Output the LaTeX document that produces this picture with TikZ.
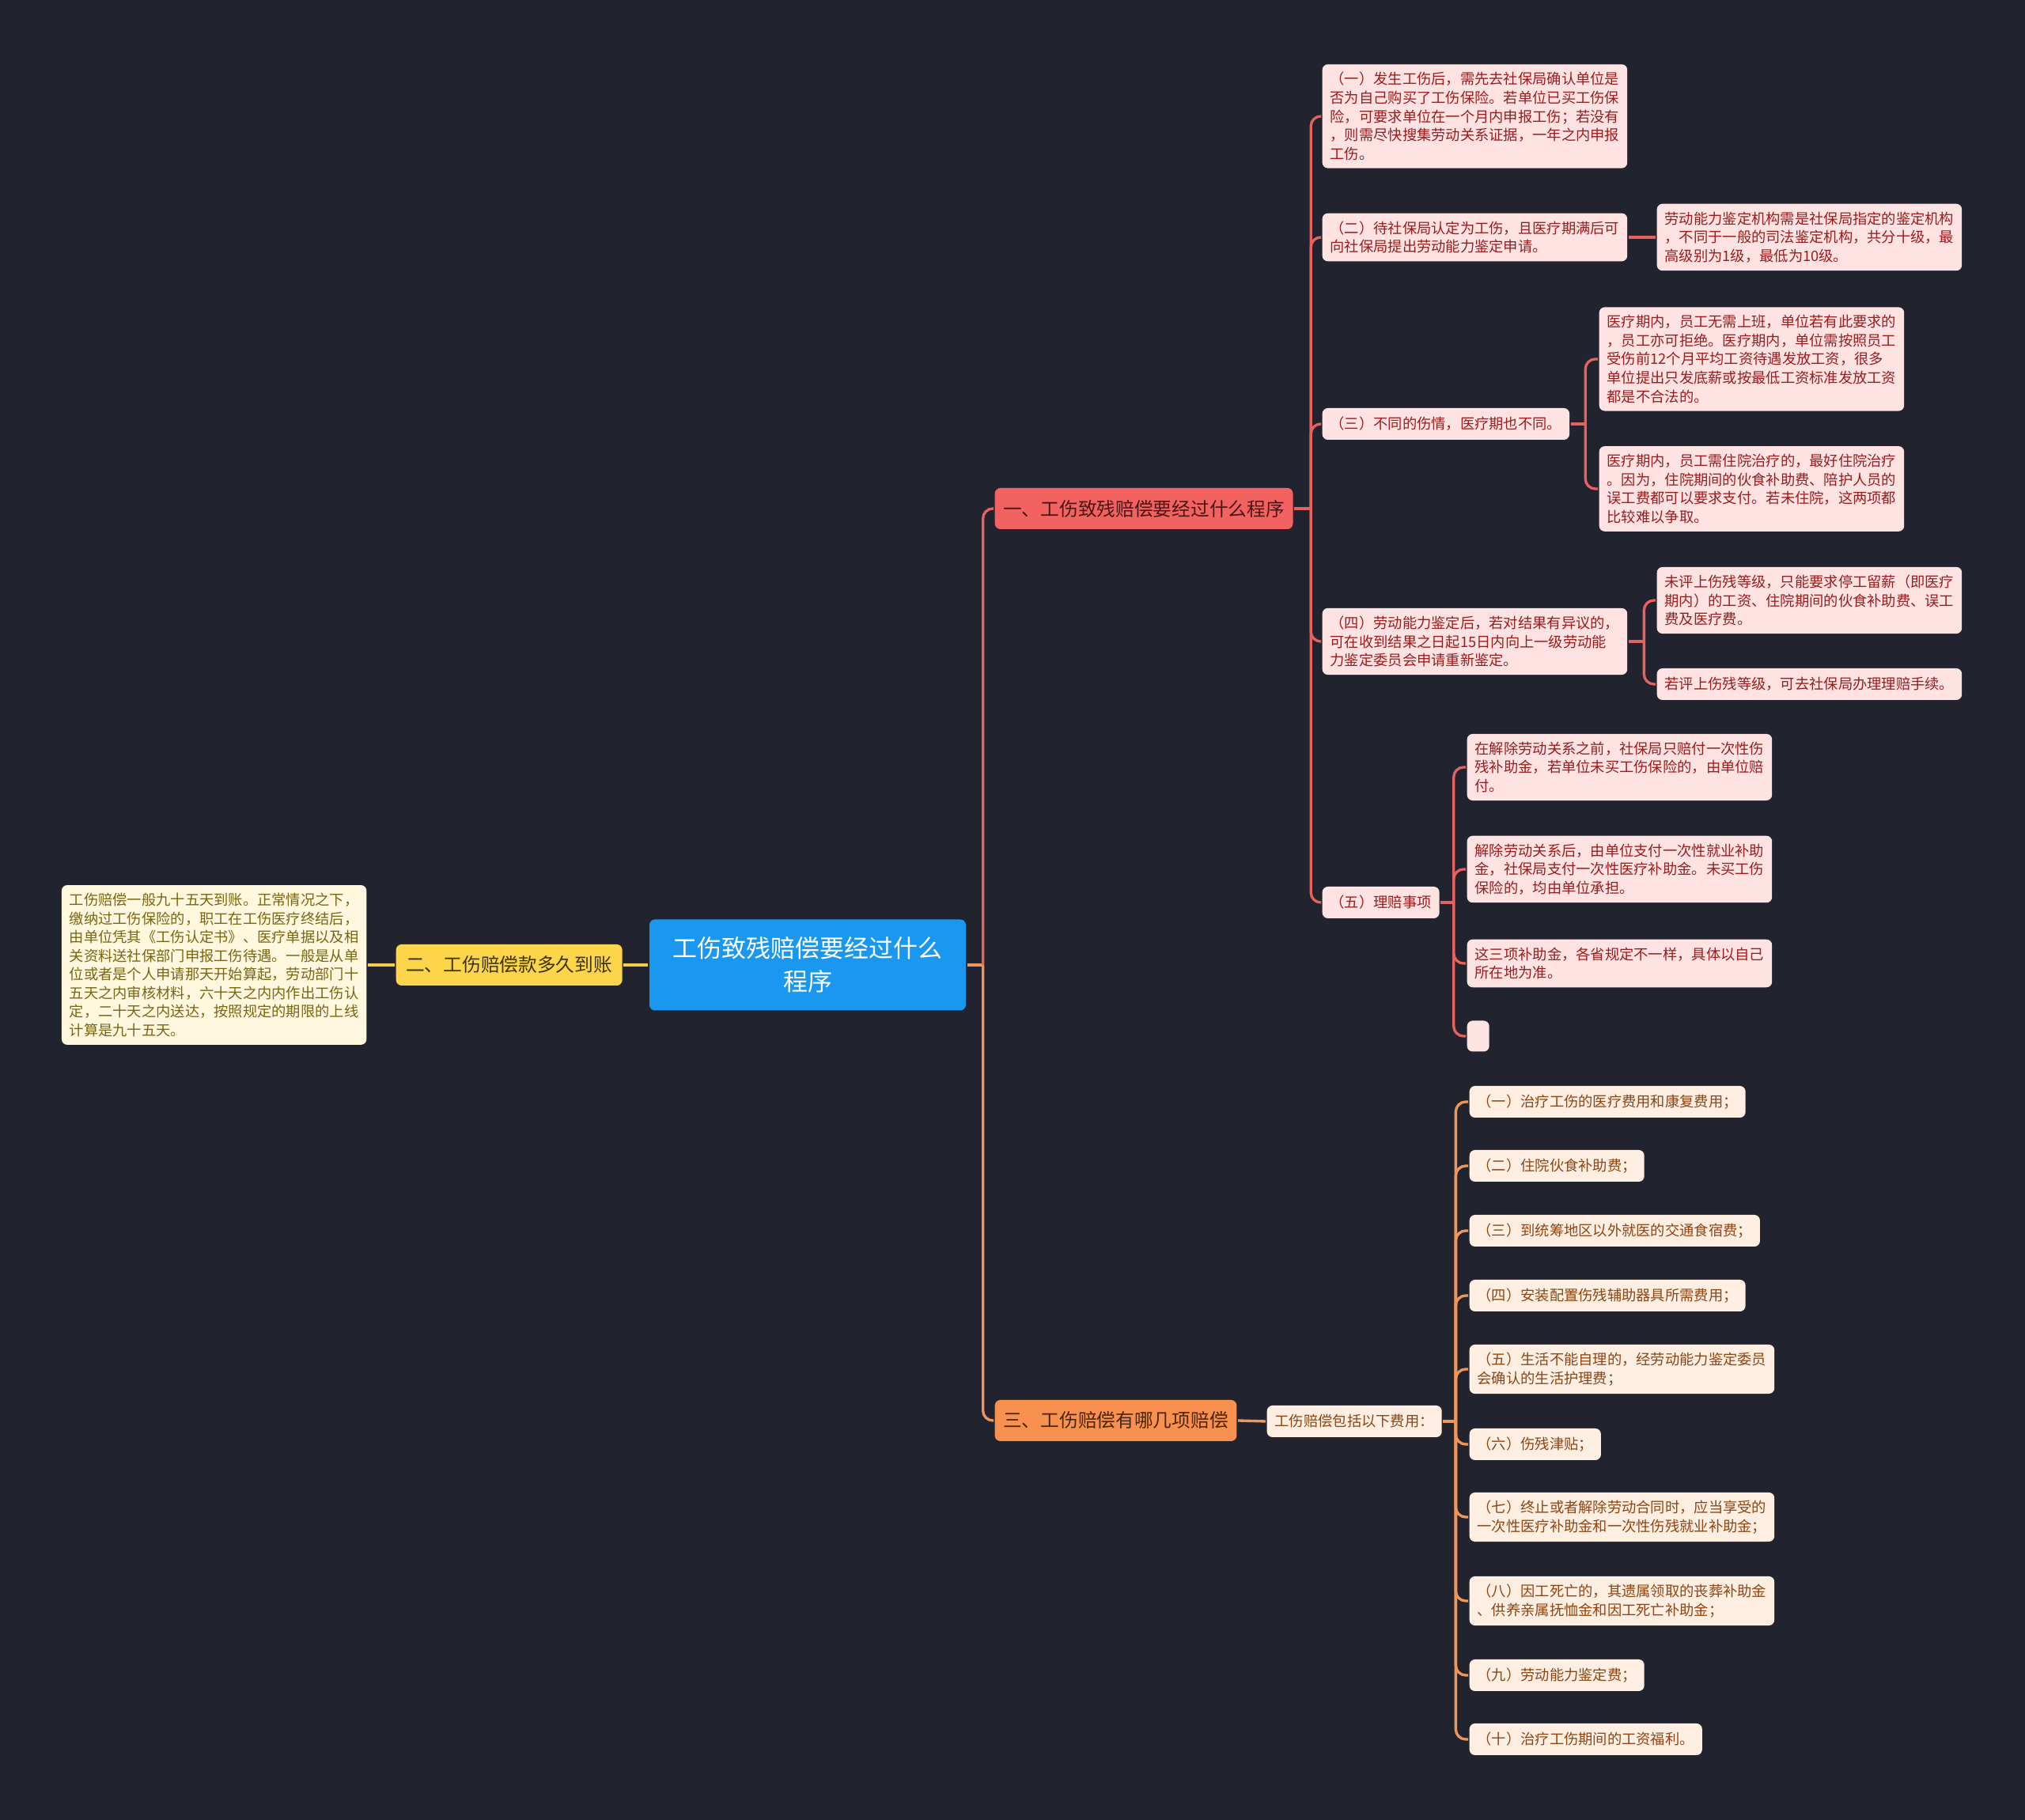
\documentclass[tikz,border=0pt]{standalone}
\usepackage{fontspec}
\setmainfont{Noto Sans CJK SC}
\usetikzlibrary{positioning}
\definecolor{cbg}{HTML}{21242F}
\definecolor{cblue}{HTML}{1A97EF}
\definecolor{cred}{HTML}{F26260}
\definecolor{credline}{HTML}{E5625F}
\definecolor{credfill}{HTML}{FFE2E2}
\definecolor{credtext}{HTML}{9B1C1C}
\definecolor{credhead}{HTML}{4A1515}
\definecolor{corange}{HTML}{F8914F}
\definecolor{corline}{HTML}{F0965A}
\definecolor{corfill}{HTML}{FFEEE2}
\definecolor{cortext}{HTML}{8E4513}
\definecolor{corhead}{HTML}{4A2608}
\definecolor{cyellow}{HTML}{FCD54B}
\definecolor{cyelline}{HTML}{F5CF4A}
\definecolor{cyelfill}{HTML}{FFF8DE}
\definecolor{cyeltext}{HTML}{7A6512}
\definecolor{cyelhead}{HTML}{3E3406}
\tikzset{
  every picture/.style={line width=1.9pt},
  rootbox/.style={fill=cblue, text=white, rounded corners=4pt, align=center, minimum width=8cm, minimum height=2.3cm, font=\fontsize{17.6}{23.9}\selectfont},
  branchbox/.style={fill=#1, rounded corners=4pt, inner xsep=0.21cm, minimum height=1.04cm, font=\fontsize{13.5}{16}\selectfont},
  leafbox/.style={fill=#1, rounded corners=4pt, align=left, inner xsep=0.2cm, inner ysep=0.2cm, minimum height=0.8cm, font=\fontsize{10.4}{13.4}\selectfont},
  redleaf/.style={leafbox=credfill, text=credtext, anchor=west},
  orleaf/.style={leafbox=corfill, text=cortext, anchor=west},
  yelleaf/.style={leafbox=cyelfill, text=cyeltext},
  link/.style={draw=#1, line width=1.9pt, rounded corners=0.25cm},
}
\begin{document}
\begin{tikzpicture}
  \useasboundingbox[fill=cbg] (0,0) rectangle (51.2,46.02);
  % centre and the three main branches
  \node[rootbox] (root) at (20.42,21.62) {工伤致残赔偿要经过什么\\程序};
  \node[branchbox=cred, text=credhead, anchor=west] (b1) at (25.12,33.16) {一、工伤致残赔偿要经过什么程序};
  \node[branchbox=cyellow, text=cyelhead, inner xsep=0.25cm, left=0.62cm of root] (b2) {二、工伤赔偿款多久到账};
  \node[branchbox=corange, text=corhead, anchor=west] (b3) at (25.12,10.10) {三、工伤赔偿有哪几项赔偿};
  \node[yelleaf, left=0.68cm of b2] (y1) {工伤赔偿一般九十五天到账。正常情况之下，\\缴纳过工伤保险的，职工在工伤医疗终结后，\\由单位凭其《工伤认定书》、医疗单据以及相\\关资料送社保部门申报工伤待遇。一般是从单\\位或者是个人申请那天开始算起，劳动部门十\\五天之内审核材料，六十天之内内作出工伤认\\定，二十天之内送达，按照规定的期限的上线\\计算是九十五天。};
  \path (root.east) ++(0.4,0) coordinate (t0);
  \draw[link=cyelline] (root.west) -- (b2.east);
  \draw[link=cyelline] (b2.west) -- (y1.east);
  \draw[link=corline] (root.east) -- (t0);
  \draw[link=credline] (t0) |- (b1.west);
  \draw[link=corline] (t0) |- (b3.west);

  % branch one
  \node[redleaf] (r1) at (33.4,43.08) {（一）发生工伤后，需先去社保局确认单位是\\否为自己购买了工伤保险。若单位已买工伤保\\险，可要求单位在一个月内申报工伤；若没有\\，则需尽快搜集劳动关系证据，一年之内申报\\工伤。};
  \node[redleaf] (r2) at (33.4,40.02) {（二）待社保局认定为工伤，且医疗期满后可\\向社保局提出劳动能力鉴定申请。};
  \node[redleaf] (r3) at (33.4,35.30) {（三）不同的伤情，医疗期也不同。};
  \node[redleaf] (r4) at (33.4,29.80) {（四）劳动能力鉴定后，若对结果有异议的，\\可在收到结果之日起15日内向上一级劳动能\\力鉴定委员会申请重新鉴定。};
  \node[redleaf] (r5) at (33.4,23.20) {（五）理赔事项};
  \node[redleaf] (r21) at (41.86,40.02) {劳动能力鉴定机构需是社保局指定的鉴定机构\\，不同于一般的司法鉴定机构，共分十级，最\\高级别为1级，最低为10级。};
  \node[redleaf] (r31) at (40.40,36.94) {医疗期内，员工无需上班，单位若有此要求的\\，员工亦可拒绝。医疗期内，单位需按照员工\\受伤前12个月平均工资待遇发放工资，很多\\单位提出只发底薪或按最低工资标准发放工资\\都是不合法的。};
  \node[redleaf] (r32) at (40.40,33.66) {医疗期内，员工需住院治疗的，最好住院治疗\\。因为，住院期间的伙食补助费、陪护人员的\\误工费都可以要求支付。若未住院，这两项都\\比较难以争取。};
  \node[redleaf] (r41) at (41.86,30.84) {未评上伤残等级，只能要求停工留薪（即医疗\\期内）的工资、住院期间的伙食补助费、误工\\费及医疗费。};
  \node[redleaf] (r42) at (41.86,28.72) {若评上伤残等级，可去社保局办理理赔手续。};
  \node[redleaf] (r51) at (37.06,26.62) {在解除劳动关系之前，社保局只赔付一次性伤\\残补助金，若单位未买工伤保险的，由单位赔\\付。};
  \node[redleaf] (r52) at (37.06,24.04) {解除劳动关系后，由单位支付一次性就业补助\\金，社保局支付一次性医疗补助金。未买工伤\\保险的，均由单位承担。};
  \node[redleaf] (r53) at (37.06,21.66) {这三项补助金，各省规定不一样，具体以自己\\所在地为准。};
  \node[redleaf, minimum width=0.56cm, minimum height=0.78cm, inner sep=0pt] (r54) at (37.06,19.82) {};
  \path (b1.east) ++(0.42,0) coordinate (t1);
  \path (r3.east) ++(0.37,0) coordinate (t3);
  \path (r4.east) ++(0.39,0) coordinate (t4);
  \path (r5.east) ++(0.33,0) coordinate (t5);
  \draw[link=credline] (b1.east) -- (t1);
  \foreach \n in {r1,r2,r3,r4,r5}
    \draw[link=credline] (t1) |- (\n.west);
  \draw[link=credline] (r2.east) -- (r21.west);
  \draw[link=credline] (r3.east) -- (t3);
  \foreach \n in {r31,r32}
    \draw[link=credline] (t3) |- (\n.west);
  \draw[link=credline] (r4.east) -- (t4);
  \foreach \n in {r41,r42}
    \draw[link=credline] (t4) |- (\n.west);
  \draw[link=credline] (r5.east) -- (t5);
  \foreach \n in {r51,r52,r53,r54}
    \draw[link=credline] (t5) |- (\n.west);

  % branch three
  \node[orleaf] (o0) at (32.0,10.08) {工伤赔偿包括以下费用：};
  \node[orleaf] (o1) at (37.12,18.16) {（一）治疗工伤的医疗费用和康复费用；};
  \node[orleaf] (o2) at (37.12,16.54) {（二）住院伙食补助费；};
  \node[orleaf] (o3) at (37.12,14.90) {（三）到统筹地区以外就医的交通食宿费；};
  \node[orleaf] (o4) at (37.12,13.26) {（四）安装配置伤残辅助器具所需费用；};
  \node[orleaf] (o5) at (37.12,11.40) {（五）生活不能自理的，经劳动能力鉴定委员\\会确认的生活护理费；};
  \node[orleaf] (o6) at (37.12,9.50) {（六）伤残津贴；};
  \node[orleaf] (o7) at (37.12,7.66) {（七）终止或者解除劳动合同时，应当享受的\\一次性医疗补助金和一次性伤残就业补助金；};
  \node[orleaf] (o8) at (37.12,5.54) {（八）因工死亡的，其遗属领取的丧葬补助金\\、供养亲属抚恤金和因工死亡补助金；};
  \node[orleaf] (o9) at (37.12,3.66) {（九）劳动能力鉴定费；};
  \node[orleaf] (o10) at (37.12,2.04) {（十）治疗工伤期间的工资福利。};
  \path (o0.east) ++(0.32,0) coordinate (t6);
  \draw[link=corline] (b3.east) -- (o0.west);
  \draw[link=corline] (o0.east) -- (t6);
  \foreach \n in {o1,o2,o3,o4,o5,o6,o7,o8,o9,o10}
    \draw[link=corline] (t6) |- (\n.west);
\end{tikzpicture}
\end{document}
